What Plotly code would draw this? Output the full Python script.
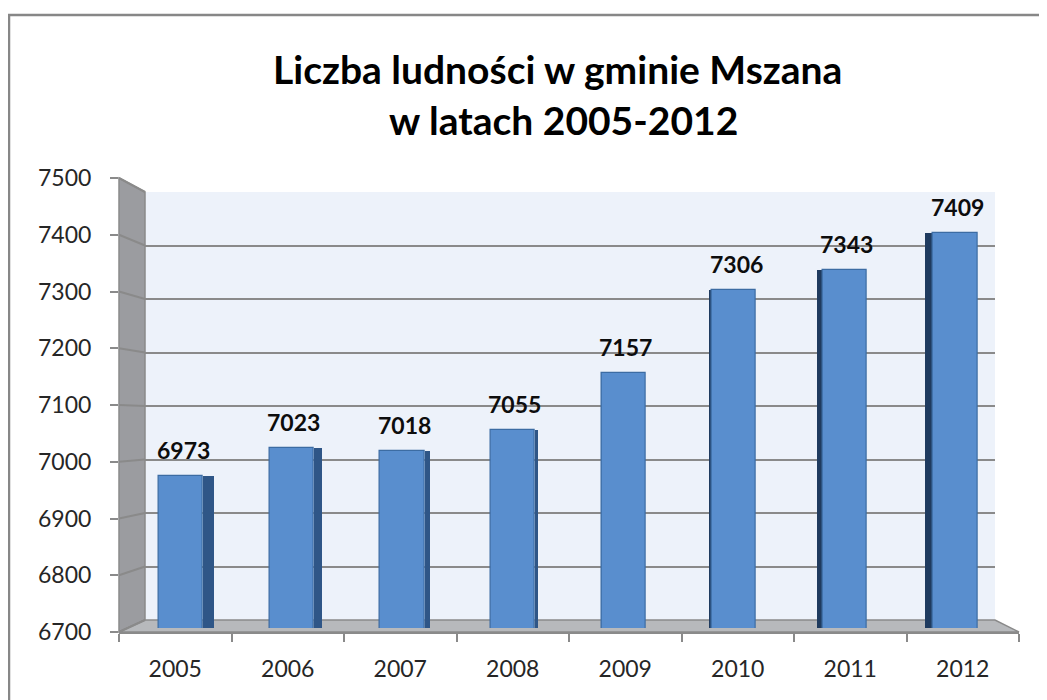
import plotly.graph_objects as go

# ---------------- data ----------------
years = ["2005", "2006", "2007", "2008", "2009", "2010", "2011", "2012"]
population = [6973, 7023, 7018, 7055, 7157, 7306, 7343, 7409]
y_ticks = [6700, 6800, 6900, 7000, 7100, 7200, 7300, 7400, 7500]
title_line1 = "Liczba ludności w gminie Mszana"
title_line2 = "w latach 2005-2012"

# ---------------- layout helpers (pixels -> paper) ----------------
W, H = 1047, 700
PAGE_OFF = 8  # page body margin
def fx(px):
    return (px - PAGE_OFF) / W
def fy(py):
    return 1 - (py - PAGE_OFF) / H

YMIN, YMAX = 6700, 7500
# front plane
FX0, FX1, FY0, FY1 = 119, 1019, 632, 178
# back wall
BX0, BX1, BY0, BY1 = 145, 995, 620, 192
# bar plane
BAR_X0, BAR_X1, BAR_Y0, BAR_Y1 = 125.7, 1010.5, 628, 182
BAR_W = 0.398
VANISH_X, DEPTH_K = 611, 0.0245

def yf(v):
    return FY0 - (v - YMIN) * (FY0 - FY1) / (YMAX - YMIN)
def yb(v):
    return BY0 - (v - YMIN) * (BY0 - BY1) / (YMAX - YMIN)

FONT = "Lato"
GRAY = "#8A8A8A"

fig = go.Figure()

# back wall grid (subplot x / y)
fig.add_trace(go.Scatter(x=[0, 1], y=[None, None], xaxis="x", yaxis="y",
                         showlegend=False, hoverinfo="skip"))

# bars (subplot x2 / y2)
idx = list(range(len(years)))
spacing_px = (BAR_X1 - BAR_X0) / len(years)
side_off, side_w, side_col = [], [], []
for i in idx:
    xc = BAR_X0 + spacing_px * (i + 0.5)
    d_units = DEPTH_K * (VANISH_X - xc) / spacing_px
    if d_units >= 0:
        side_off.append(BAR_W / 2)
        side_w.append(max(d_units, 0.001))
        side_col.append("#2F5687")
    else:
        side_off.append(-BAR_W / 2 + d_units)
        side_w.append(-d_units)
        side_col.append("#1F3B5F")

fig.add_trace(go.Bar(x=idx, y=population, xaxis="x2", yaxis="y2",
                     width=side_w, offset=side_off,
                     marker=dict(color=side_col, line=dict(width=0)),
                     showlegend=False, hoverinfo="skip"))
fig.add_trace(go.Bar(x=idx, y=population, xaxis="x2", yaxis="y2",
                     width=BAR_W,
                     marker=dict(color="#598ECE", line=dict(color="#3C6CA3", width=1.2)),
                     showlegend=False, hoverinfo="skip"))

# front axes (subplot x3 / y3)
fig.add_trace(go.Scatter(x=years, y=[None] * len(years), xaxis="x3", yaxis="y3",
                         showlegend=False, hoverinfo="skip"))

# value labels
for i, v in zip(idx, population):
    fig.add_annotation(x=i, y=v, xref="x2", yref="y2", text=f"<b>{v}</b>",
                       showarrow=False, yanchor="middle", yshift=26, xshift=2,
                       font=dict(family=FONT, size=23, color="#0D0D0D"))

# title
fig.add_annotation(x=fx(557), y=fy(69), xref="paper", yref="paper",
                   text=f"<b>{title_line1}</b>", showarrow=False,
                   xanchor="center", yanchor="middle",
                   font=dict(family=FONT, size=39, color="#000000"))
fig.add_annotation(x=fx(563), y=fy(120), xref="paper", yref="paper",
                   text=f"<b>{title_line2}</b>", showarrow=False,
                   xanchor="center", yanchor="middle",
                   font=dict(family=FONT, size=39, color="#000000"))

# ---------------- decorative 3D walls ----------------
shapes = []
def P(px, py):
    return f"{fx(px):.5f},{fy(py):.5f}"

shapes.append(dict(type="rect", xref="paper", yref="paper", layer="below",
                   x0=fx(BX0), x1=fx(BX1), y0=fy(BY0), y1=fy(BY1),
                   fillcolor="#EDF2FA", line=dict(width=0)))
shapes.append(dict(type="path", xref="paper", yref="paper", layer="below",
                   path=f"M {P(FX0, FY1)} L {P(BX0, BY1)} L {P(BX0, BY0)} L {P(FX0, FY0)} Z",
                   fillcolor="#9B9CA0", line=dict(color=GRAY, width=1.5)))
shapes.append(dict(type="path", xref="paper", yref="paper", layer="below",
                   path=f"M {P(FX0, FY0)} L {P(BX0, BY0)} L {P(BX1, BY0)} L {P(FX1, FY0)} Z",
                   fillcolor="#B7B9BC", line=dict(color=GRAY, width=1.5)))
for t in y_ticks:
    shapes.append(dict(type="line", xref="paper", yref="paper", layer="below",
                       x0=fx(FX0), y0=fy(yf(t)), x1=fx(BX0), y1=fy(yb(t)),
                       line=dict(color=GRAY, width=2)))
shapes.append(dict(type="rect", xref="paper", yref="paper", layer="below",
                   x0=fx(9), x1=1.05, y0=-0.05, y1=fy(15),
                   fillcolor="rgba(0,0,0,0)", line=dict(color="#878787", width=2.5)))

fig.update_layout(
    width=W, height=H,
    margin=dict(l=0, r=0, t=0, b=0, autoexpand=False),
    paper_bgcolor="white", plot_bgcolor="rgba(0,0,0,0)",
    barmode="overlay", bargap=0,
    shapes=shapes,
    xaxis=dict(domain=[fx(BX0), fx(BX1)], range=[0, 1], visible=False, anchor="y",
               automargin=False),
    yaxis=dict(domain=[fy(BY0), fy(BY1)], range=[YMIN, YMAX], anchor="x",
               showgrid=True, gridcolor=GRAY, gridwidth=2, tickmode="array",
               tickvals=y_ticks, showticklabels=False, ticks="", zeroline=False,
               showline=False, automargin=False),
    xaxis2=dict(domain=[fx(BAR_X0), fx(BAR_X1)], range=[-0.5, len(years) - 0.5],
                visible=False, anchor="y2", automargin=False),
    yaxis2=dict(domain=[fy(BAR_Y0), fy(BAR_Y1)], range=[YMIN, YMAX], visible=False,
                anchor="x2", automargin=False),
    xaxis3=dict(domain=[fx(FX0), fx(FX1)], type="category", categoryorder="array",
                categoryarray=years, range=[-0.5, len(years) - 0.5], anchor="y3",
                tickson="boundaries", ticks="outside", ticklen=8, tickwidth=2, tickcolor=GRAY,
                showline=True, linecolor=GRAY, linewidth=2, showgrid=False,
                ticklabelstandoff=15, automargin=False,
                tickfont=dict(family=FONT, size=23, color="#262626")),
    yaxis3=dict(domain=[fy(FY0), fy(FY1)], range=[YMIN, YMAX], anchor="x3",
                tickmode="array", tickvals=y_ticks, ticks="outside", ticklen=8,
                tickwidth=2, tickcolor=GRAY, showgrid=False, zeroline=False,
                showline=False, ticklabelstandoff=14, automargin=False,
                tickfont=dict(family=FONT, size=23, color="#262626")),
)

fig.write_html("out.html")
